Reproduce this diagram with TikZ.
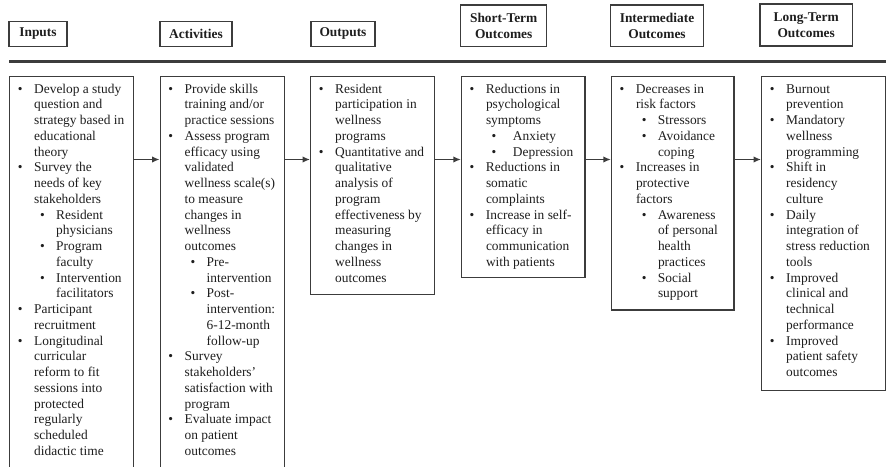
\documentclass[tikz,border=0pt]{standalone}
\usepackage{fontspec}
\setmainfont{Liberation Serif}
\usetikzlibrary{arrows.meta}
\definecolor{linecol}{RGB}{60,60,60}
\definecolor{textcol}{RGB}{30,30,30}
\newcommand{\ia}[1]{\strut\makebox[25pt][l]{\hspace*{8.6pt}\textbullet}#1}
\newcommand{\ic}[1]{\strut\makebox[25pt][l]{}#1}
\newcommand{\iia}[1]{\strut\makebox[47pt][l]{\hspace*{30.8pt}\textbullet}#1}
\newcommand{\iic}[1]{\strut\makebox[47pt][l]{}#1}
\newcommand{\iib}[1]{\strut\makebox[52pt][l]{\hspace*{30.6pt}\textbullet}#1}
\tikzset{
  hbox/.style={draw=linecol, line width=1.3pt, inner sep=0pt, align=center,
    text=textcol, font=\fontsize{13.4}{16}\selectfont\bfseries},
  cbox/.style={draw=linecol, line width=1.3pt, inner sep=0pt, anchor=north west},
  ctext/.style={inner sep=0pt, anchor=north west, align=left, text=textcol,
    font=\fontsize{13.4}{15.75}\selectfont},
  arr/.style={draw=linecol, line width=1.4pt, -{Latex[length=7.5pt,width=6.5pt]}},
  rule/.style={draw=linecol, line width=2.5pt}
}
\begin{document}
\begin{tikzpicture}[x=1pt,y=-1pt]
\useasboundingbox (0,0) rectangle (888,466);
\clip (0,0) rectangle (888,466);
\fill[white] (0,0) rectangle (888,466);
% headers
\node[hbox, minimum width=58pt, minimum height=24.5pt] (h1) at (38,33.9) {Inputs};
\node[hbox, minimum width=72pt, minimum height=24.5pt] (h2) at (196,33.9) {Activities};
\node[hbox, minimum width=64pt, minimum height=25pt] (h3) at (343,33.7) {Outputs};
\node[hbox, minimum width=86pt, minimum height=41.7pt] (h4) at (503.7,25.9) {Short-Term\\Outcomes};
\node[hbox, minimum width=92.6pt, minimum height=41.7pt] (h5) at (657,25.9) {Intermediate\\Outcomes};
\node[hbox, minimum width=92.3pt, minimum height=42pt] (h6) at (806.2,25) {Long-Term\\Outcomes};
% rule
\coordinate (rl) at (9,61.3);
\coordinate (rr) at (886,61.3);
\draw[rule] (rl) -- (rr);
% content boxes
\node[cbox, minimum width=124pt, minimum height=410pt] (b1) at (9,75.5) {};
\node[cbox, minimum width=124pt, minimum height=410pt] (b2) at (159.5,75.5) {};
\node[cbox, minimum width=124pt, minimum height=218pt] (b3) at (310,75.5) {};
\node[cbox, minimum width=123.5pt, minimum height=201.5pt] (b4) at (460.8,75.5) {};
\node[cbox, minimum width=122.5pt, minimum height=233.8pt] (b5) at (610.8,75.5) {};
\node[cbox, minimum width=124pt, minimum height=314.5pt] (b6) at (761,75.5) {};
% texts
\node[ctext] (t1) at (9,82) {\ia{Develop a study}\\
\ic{question and}\\
\ic{strategy based in}\\
\ic{educational}\\
\ic{theory}\\
\ia{Survey the}\\
\ic{needs of key}\\
\ic{stakeholders}\\
\iia{Resident}\\
\iic{physicians}\\
\iia{Program}\\
\iic{faculty}\\
\iia{Intervention}\\
\iic{facilitators}\\
\ia{Participant}\\
\ic{recruitment}\\
\ia{Longitudinal}\\
\ic{curricular}\\
\ic{reform to fit}\\
\ic{sessions into}\\
\ic{protected}\\
\ic{regularly}\\
\ic{scheduled}\\
\ic{didactic time}};
\node[ctext] (t2) at (159.5,82) {\ia{Provide skills}\\
\ic{training and/or}\\
\ic{practice sessions}\\
\ia{Assess program}\\
\ic{efficacy using}\\
\ic{validated}\\
\ic{wellness scale(s)}\\
\ic{to measure}\\
\ic{changes in}\\
\ic{wellness}\\
\ic{outcomes}\\
\iia{Pre-}\\
\iic{intervention}\\
\iia{Post-}\\
\iic{intervention:}\\
\iic{6-12-month}\\
\iic{follow-up}\\
\ia{Survey}\\
\ic{stakeholders’}\\
\ic{satisfaction with}\\
\ic{program}\\
\ia{Evaluate impact}\\
\ic{on patient}\\
\ic{outcomes}};
\node[ctext] (t3) at (310,82) {\ia{Resident}\\
\ic{participation in}\\
\ic{wellness}\\
\ic{programs}\\
\ia{Quantitative and}\\
\ic{qualitative}\\
\ic{analysis of}\\
\ic{program}\\
\ic{effectiveness by}\\
\ic{measuring}\\
\ic{changes in}\\
\ic{wellness}\\
\ic{outcomes}};
\node[ctext] (t4) at (460.8,82) {\ia{Reductions in}\\
\ic{psychological}\\
\ic{symptoms}\\
\iib{Anxiety}\\
\iib{Depression}\\
\ia{Reductions in}\\
\ic{somatic}\\
\ic{complaints}\\
\ia{Increase in self-}\\
\ic{efficacy in}\\
\ic{communication}\\
\ic{with patients}};
\node[ctext] (t5) at (610.8,82) {\ia{Decreases in}\\
\ic{risk factors}\\
\iia{Stressors}\\
\iia{Avoidance}\\
\iic{coping}\\
\ia{Increases in}\\
\ic{protective}\\
\ic{factors}\\
\iia{Awareness}\\
\iic{of personal}\\
\iic{health}\\
\iic{practices}\\
\iia{Social}\\
\iic{support}};
\node[ctext] (t6) at (761,82) {\ia{Burnout}\\
\ic{prevention}\\
\ia{Mandatory}\\
\ic{wellness}\\
\ic{programming}\\
\ia{Shift in}\\
\ic{residency}\\
\ic{culture}\\
\ia{Daily}\\
\ic{integration of}\\
\ic{stress reduction}\\
\ic{tools}\\
\ia{Improved}\\
\ic{clinical and}\\
\ic{technical}\\
\ic{performance}\\
\ia{Improved}\\
\ic{patient safety}\\
\ic{outcomes}};
% arrows
\coordinate (ay) at (0,159.5);
\draw[arr] (b1.east |- ay) -- (b2.west |- ay);
\draw[arr] (b2.east |- ay) -- (b3.west |- ay);
\draw[arr] (b3.east |- ay) -- (b4.west |- ay);
\draw[arr] (b4.east |- ay) -- (b5.west |- ay);
\draw[arr] (b5.east |- ay) -- (b6.west |- ay);
\end{tikzpicture}
\end{document}
